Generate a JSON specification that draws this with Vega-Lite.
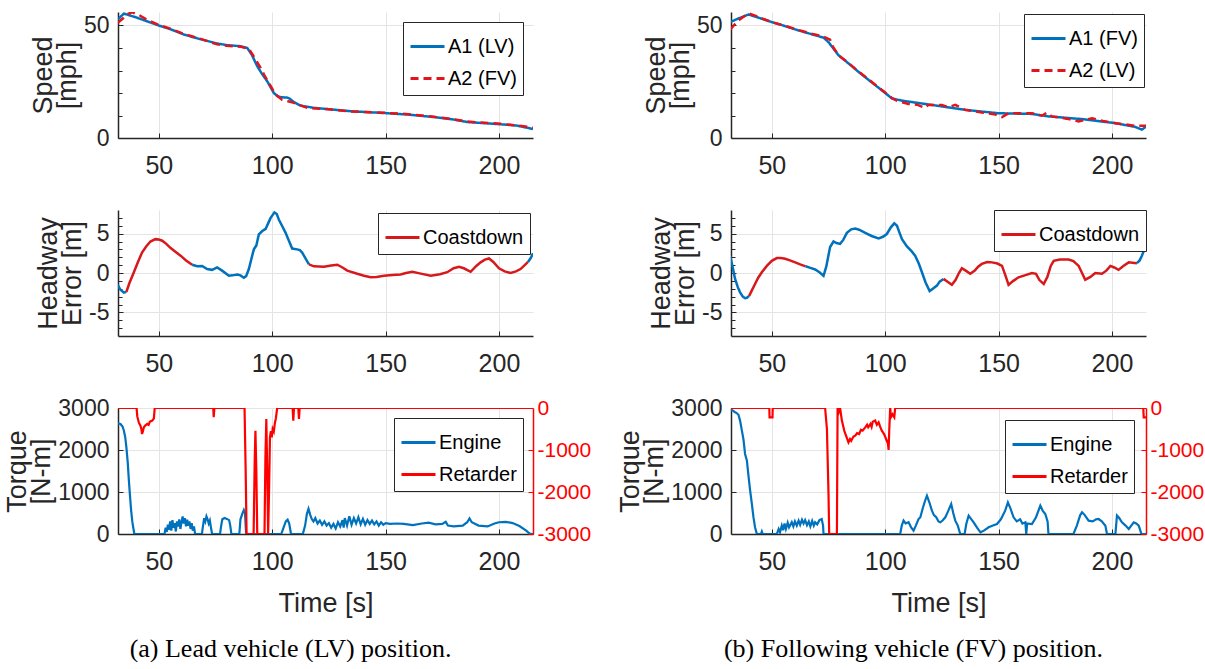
{
"$schema": "https://vega.github.io/schema/vega-lite/v6.json",
"background": "white",
"padding": {"left": 3, "top": 12, "right": 0, "bottom": 0},
"config": {
  "view": {"stroke": null},
  "font": "Liberation Sans",
  "axis": {"labelFont": "Liberation Sans", "labelFontSize": 25, "labelColor": "#262626", "titleFont": "Liberation Sans", "titleFontSize": 27, "titleLineHeight": 24, "titleFontWeight": "normal", "titleColor": "#262626", "domainColor": "#262626", "domainWidth": 1.5, "tickColor": "#262626", "tickSize": -5, "gridColor": "#e4e4e4", "gridWidth": 1},
  "axisX": {"labelPadding": 20},
  "axisY": {"labelPadding": 14, "titlePadding": 2, "labelFontSize": 23},
  "legend": {"orient": "top-right", "title": null, "fillColor": "white", "strokeColor": "#262626", "padding": 6, "labelFont": "Liberation Sans", "labelFontSize": 20, "labelColor": "black", "symbolType": "stroke", "symbolSize": 1156, "symbolStrokeWidth": 3, "labelOffset": 2, "rowPadding": 3}
},
"datasets": {
"spL": [
{"t":31.9,"v":52.7,"s":"A1 (LV)"},{"t":34.6,"v":55.3,"s":"A1 (LV)"},{"t":40,"v":53.6,"s":"A1 (LV)"},{"t":45,"v":51.8,"s":"A1 (LV)"},{"t":50,"v":50,"s":"A1 (LV)"},{"t":55,"v":48.4,"s":"A1 (LV)"},{"t":61,"v":46,"s":"A1 (LV)"},{"t":68,"v":44,"s":"A1 (LV)"},{"t":75.7,"v":42,"s":"A1 (LV)"},{"t":80,"v":41.3,"s":"A1 (LV)"},{"t":86,"v":40.8,"s":"A1 (LV)"},{"t":89,"v":40,"s":"A1 (LV)"},{"t":91,"v":37,"s":"A1 (LV)"},{"t":93.4,"v":31.9,"s":"A1 (LV)"},{"t":95.5,"v":28.5,"s":"A1 (LV)"},{"t":97.8,"v":25.2,"s":"A1 (LV)"},{"t":100.7,"v":20,"s":"A1 (LV)"},{"t":102.5,"v":18.5,"s":"A1 (LV)"},{"t":104,"v":18.1,"s":"A1 (LV)"},{"t":106.5,"v":18,"s":"A1 (LV)"},{"t":107.5,"v":17.6,"s":"A1 (LV)"},{"t":109.5,"v":16,"s":"A1 (LV)"},{"t":112.5,"v":14.4,"s":"A1 (LV)"},{"t":118.4,"v":13.4,"s":"A1 (LV)"},{"t":125,"v":12.8,"s":"A1 (LV)"},{"t":134.6,"v":11.9,"s":"A1 (LV)"},{"t":149.3,"v":11.1,"s":"A1 (LV)"},{"t":160,"v":10.4,"s":"A1 (LV)"},{"t":171.3,"v":9.3,"s":"A1 (LV)"},{"t":180,"v":8.2,"s":"A1 (LV)"},{"t":186,"v":7.1,"s":"A1 (LV)"},{"t":200.7,"v":6.1,"s":"A1 (LV)"},{"t":208,"v":5.5,"s":"A1 (LV)"},{"t":215,"v":4,"s":"A1 (LV)"},
{"t":31.9,"v":51.2,"s":"A2 (FV)"},{"t":34,"v":53,"s":"A2 (FV)"},{"t":36,"v":55,"s":"A2 (FV)"},{"t":38.2,"v":55.9,"s":"A2 (FV)"},{"t":41,"v":54.8,"s":"A2 (FV)"},{"t":45,"v":52.4,"s":"A2 (FV)"},{"t":50,"v":50.3,"s":"A2 (FV)"},{"t":55,"v":48.6,"s":"A2 (FV)"},{"t":61,"v":46.3,"s":"A2 (FV)"},{"t":68,"v":44.2,"s":"A2 (FV)"},{"t":75.7,"v":41.6,"s":"A2 (FV)"},{"t":80,"v":41,"s":"A2 (FV)"},{"t":86,"v":40.6,"s":"A2 (FV)"},{"t":89.7,"v":39.6,"s":"A2 (FV)"},{"t":92,"v":36,"s":"A2 (FV)"},{"t":94.9,"v":31.2,"s":"A2 (FV)"},{"t":96.5,"v":28,"s":"A2 (FV)"},{"t":98.5,"v":24.5,"s":"A2 (FV)"},{"t":101.5,"v":19.3,"s":"A2 (FV)"},{"t":104.4,"v":17,"s":"A2 (FV)"},{"t":107,"v":16.3,"s":"A2 (FV)"},{"t":109.6,"v":15.6,"s":"A2 (FV)"},{"t":115.4,"v":13.4,"s":"A2 (FV)"},{"t":125,"v":12.8,"s":"A2 (FV)"},{"t":134.6,"v":11.8,"s":"A2 (FV)"},{"t":149.3,"v":11.2,"s":"A2 (FV)"},{"t":160,"v":10.6,"s":"A2 (FV)"},{"t":171.3,"v":9.4,"s":"A2 (FV)"},{"t":180,"v":8.3,"s":"A2 (FV)"},{"t":186,"v":7.3,"s":"A2 (FV)"},{"t":200.7,"v":6.3,"s":"A2 (FV)"},{"t":208,"v":5.6,"s":"A2 (FV)"},{"t":215,"v":4.6,"s":"A2 (FV)"}
],
"spR": [
{"t":31.6,"v":51.5,"s":"A1 (FV)"},{"t":35,"v":53,"s":"A1 (FV)"},{"t":39.7,"v":54.9,"s":"A1 (FV)"},{"t":45,"v":53.2,"s":"A1 (FV)"},{"t":50,"v":51.5,"s":"A1 (FV)"},{"t":55,"v":50,"s":"A1 (FV)"},{"t":61.8,"v":47.8,"s":"A1 (FV)"},{"t":68,"v":46,"s":"A1 (FV)"},{"t":72.8,"v":44.6,"s":"A1 (FV)"},{"t":75,"v":42.6,"s":"A1 (FV)"},{"t":79.4,"v":36.8,"s":"A1 (FV)"},{"t":84,"v":33,"s":"A1 (FV)"},{"t":88.2,"v":29.4,"s":"A1 (FV)"},{"t":95.6,"v":23.5,"s":"A1 (FV)"},{"t":100,"v":20,"s":"A1 (FV)"},{"t":102.9,"v":17.6,"s":"A1 (FV)"},{"t":107.4,"v":16.6,"s":"A1 (FV)"},{"t":120.6,"v":14.7,"s":"A1 (FV)"},{"t":135.3,"v":12.5,"s":"A1 (FV)"},{"t":150,"v":11,"s":"A1 (FV)"},{"t":164.7,"v":10.7,"s":"A1 (FV)"},{"t":172,"v":9.6,"s":"A1 (FV)"},{"t":186.8,"v":8.4,"s":"A1 (FV)"},{"t":201.5,"v":6.6,"s":"A1 (FV)"},{"t":210.3,"v":4.9,"s":"A1 (FV)"},{"t":213.2,"v":3.7,"s":"A1 (FV)"},{"t":215,"v":5.1,"s":"A1 (FV)"},
{"t":31.6,"v":48.1,"s":"A2 (LV)"},{"t":33.8,"v":50.7,"s":"A2 (LV)"},{"t":36,"v":52.8,"s":"A2 (LV)"},{"t":39.7,"v":55.4,"s":"A2 (LV)"},{"t":42.6,"v":54.4,"s":"A2 (LV)"},{"t":46,"v":53,"s":"A2 (LV)"},{"t":50,"v":51.5,"s":"A2 (LV)"},{"t":55,"v":50.1,"s":"A2 (LV)"},{"t":61.8,"v":48,"s":"A2 (LV)"},{"t":68,"v":46.2,"s":"A2 (LV)"},{"t":72.8,"v":45.1,"s":"A2 (LV)"},{"t":75.7,"v":43.7,"s":"A2 (LV)"},{"t":77,"v":40.5,"s":"A2 (LV)"},{"t":79.4,"v":36.8,"s":"A2 (LV)"},{"t":84,"v":33.2,"s":"A2 (LV)"},{"t":88.2,"v":29.6,"s":"A2 (LV)"},{"t":95.6,"v":23.7,"s":"A2 (LV)"},{"t":100,"v":20.2,"s":"A2 (LV)"},{"t":102.9,"v":17.8,"s":"A2 (LV)"},{"t":104.4,"v":16.9,"s":"A2 (LV)"},{"t":107,"v":16,"s":"A2 (LV)"},{"t":110.3,"v":15.1,"s":"A2 (LV)"},{"t":114,"v":14.8,"s":"A2 (LV)"},{"t":117.6,"v":13.4,"s":"A2 (LV)"},{"t":119,"v":14.7,"s":"A2 (LV)"},{"t":125,"v":14.7,"s":"A2 (LV)"},{"t":127.9,"v":13.7,"s":"A2 (LV)"},{"t":130.9,"v":14.7,"s":"A2 (LV)"},{"t":135.3,"v":12.5,"s":"A2 (LV)"},{"t":142.6,"v":11.3,"s":"A2 (LV)"},{"t":148,"v":10.6,"s":"A2 (LV)"},{"t":151.5,"v":9.3,"s":"A2 (LV)"},{"t":154.4,"v":11,"s":"A2 (LV)"},{"t":160,"v":11,"s":"A2 (LV)"},{"t":164.7,"v":11,"s":"A2 (LV)"},{"t":169.1,"v":9.9,"s":"A2 (LV)"},{"t":171.3,"v":11.3,"s":"A2 (LV)"},{"t":173.5,"v":9.6,"s":"A2 (LV)"},{"t":180,"v":8.6,"s":"A2 (LV)"},{"t":185.3,"v":7.4,"s":"A2 (LV)"},{"t":191.2,"v":8.8,"s":"A2 (LV)"},{"t":196,"v":7.6,"s":"A2 (LV)"},{"t":201.5,"v":6.6,"s":"A2 (LV)"},{"t":206,"v":6,"s":"A2 (LV)"},{"t":210.3,"v":5.4,"s":"A2 (LV)"},{"t":215,"v":5.4,"s":"A2 (LV)"}
],
"hwL": [
{"t":31.9,"e":-1.5,"g":1,"m":"Other"},{"t":33,"e":-2.1,"g":1,"m":"Other"},{"t":34.6,"e":-2.5,"g":1,"m":"Other"},{"t":35.7,"e":-2.4,"g":1,"m":"Other"},
{"t":35.7,"e":-2.4,"g":2,"m":"Coastdown"},{"t":37,"e":-1.3,"g":2,"m":"Coastdown"},{"t":39,"e":0.1,"g":2,"m":"Coastdown"},{"t":40.8,"e":1.4,"g":2,"m":"Coastdown"},{"t":42.6,"e":2.6,"g":2,"m":"Coastdown"},{"t":44.5,"e":3.4,"g":2,"m":"Coastdown"},{"t":46.3,"e":4.0,"g":2,"m":"Coastdown"},{"t":48.5,"e":4.3,"g":2,"m":"Coastdown"},{"t":50,"e":4.25,"g":2,"m":"Coastdown"},{"t":51.5,"e":4.1,"g":2,"m":"Coastdown"},{"t":53.3,"e":3.7,"g":2,"m":"Coastdown"},{"t":55.1,"e":3.2,"g":2,"m":"Coastdown"},{"t":57.3,"e":2.7,"g":2,"m":"Coastdown"},{"t":59.6,"e":2.2,"g":2,"m":"Coastdown"},{"t":62,"e":1.6,"g":2,"m":"Coastdown"},{"t":64.7,"e":1.05,"g":2,"m":"Coastdown"},
{"t":64.7,"e":1.05,"g":3,"m":"Other"},{"t":66.9,"e":0.85,"g":3,"m":"Other"},{"t":69.1,"e":0.9,"g":3,"m":"Other"},{"t":71.3,"e":0.5,"g":3,"m":"Other"},{"t":73.5,"e":0.4,"g":3,"m":"Other"},{"t":75.7,"e":0.7,"g":3,"m":"Other"},{"t":77.9,"e":0.3,"g":3,"m":"Other"},{"t":80.9,"e":-0.35,"g":3,"m":"Other"},{"t":82.5,"e":-0.3,"g":3,"m":"Other"},{"t":84.6,"e":-0.2,"g":3,"m":"Other"},{"t":86,"e":-0.3,"g":3,"m":"Other"},{"t":87.5,"e":-0.6,"g":3,"m":"Other"},{"t":88.5,"e":-0.4,"g":3,"m":"Other"},{"t":89.7,"e":0.5,"g":3,"m":"Other"},{"t":91,"e":2.0,"g":3,"m":"Other"},{"t":91.9,"e":3.0,"g":3,"m":"Other"},{"t":93,"e":3.5,"g":3,"m":"Other"},{"t":94.1,"e":4.9,"g":3,"m":"Other"},{"t":95.5,"e":5.3,"g":3,"m":"Other"},{"t":97.1,"e":5.6,"g":3,"m":"Other"},{"t":98.2,"e":6.3,"g":3,"m":"Other"},{"t":99.3,"e":7.0,"g":3,"m":"Other"},{"t":101,"e":7.7,"g":3,"m":"Other"},{"t":102,"e":7.5,"g":3,"m":"Other"},{"t":102.9,"e":6.8,"g":3,"m":"Other"},{"t":104.5,"e":5.9,"g":3,"m":"Other"},{"t":105.9,"e":5.1,"g":3,"m":"Other"},{"t":107.5,"e":4.0,"g":3,"m":"Other"},{"t":108.8,"e":3.1,"g":3,"m":"Other"},{"t":111,"e":3.0,"g":3,"m":"Other"},{"t":112.2,"e":2.9,"g":3,"m":"Other"},{"t":113.2,"e":2.6,"g":3,"m":"Other"},{"t":114.8,"e":1.8,"g":3,"m":"Other"},{"t":116.2,"e":1.1,"g":3,"m":"Other"},
{"t":116.2,"e":1.1,"g":4,"m":"Coastdown"},{"t":118.4,"e":0.85,"g":4,"m":"Coastdown"},{"t":122.8,"e":0.8,"g":4,"m":"Coastdown"},{"t":126,"e":0.95,"g":4,"m":"Coastdown"},{"t":128.7,"e":1.05,"g":4,"m":"Coastdown"},{"t":131,"e":0.7,"g":4,"m":"Coastdown"},{"t":133.1,"e":0.3,"g":4,"m":"Coastdown"},{"t":137.5,"e":-0.1,"g":4,"m":"Coastdown"},{"t":140.5,"e":-0.35,"g":4,"m":"Coastdown"},{"t":143.4,"e":-0.55,"g":4,"m":"Coastdown"},{"t":146,"e":-0.5,"g":4,"m":"Coastdown"},{"t":149.3,"e":-0.35,"g":4,"m":"Coastdown"},{"t":153,"e":-0.25,"g":4,"m":"Coastdown"},{"t":156.6,"e":-0.2,"g":4,"m":"Coastdown"},{"t":159,"e":0,"g":4,"m":"Coastdown"},{"t":161.8,"e":0.15,"g":4,"m":"Coastdown"},{"t":165,"e":-0.05,"g":4,"m":"Coastdown"},{"t":169.9,"e":-0.35,"g":4,"m":"Coastdown"},{"t":174,"e":-0.15,"g":4,"m":"Coastdown"},{"t":177.2,"e":0.1,"g":4,"m":"Coastdown"},{"t":180,"e":0.6,"g":4,"m":"Coastdown"},{"t":182.4,"e":0.8,"g":4,"m":"Coastdown"},{"t":184.5,"e":0.6,"g":4,"m":"Coastdown"},{"t":187.5,"e":0.15,"g":4,"m":"Coastdown"},{"t":190,"e":0.9,"g":4,"m":"Coastdown"},{"t":191.9,"e":1.35,"g":4,"m":"Coastdown"},{"t":193.8,"e":1.7,"g":4,"m":"Coastdown"},{"t":195.6,"e":1.85,"g":4,"m":"Coastdown"},{"t":197.5,"e":1.4,"g":4,"m":"Coastdown"},{"t":200,"e":0.6,"g":4,"m":"Coastdown"},{"t":202.5,"e":0.2,"g":4,"m":"Coastdown"},{"t":205.1,"e":0,"g":4,"m":"Coastdown"},{"t":207.5,"e":0.2,"g":4,"m":"Coastdown"},{"t":209.5,"e":0.5,"g":4,"m":"Coastdown"},{"t":211,"e":0.9,"g":4,"m":"Coastdown"},{"t":212.8,"e":1.4,"g":4,"m":"Coastdown"},
{"t":212.8,"e":1.4,"g":5,"m":"Other"},{"t":214,"e":1.9,"g":5,"m":"Other"},{"t":215,"e":2.5,"g":5,"m":"Other"}
],
"hwR": [
{"t":31.6,"e":2.2,"g":1,"m":"Other"},{"t":32.7,"e":0.8,"g":1,"m":"Other"},{"t":33.8,"e":-0.75,"g":1,"m":"Other"},{"t":35,"e":-1.8,"g":1,"m":"Other"},{"t":36,"e":-2.45,"g":1,"m":"Other"},{"t":37.2,"e":-3.0,"g":1,"m":"Other"},{"t":38.2,"e":-3.2,"g":1,"m":"Other"},{"t":39,"e":-3.15,"g":1,"m":"Other"},{"t":40,"e":-2.9,"g":1,"m":"Other"},
{"t":40,"e":-2.9,"g":2,"m":"Coastdown"},{"t":41.2,"e":-2.2,"g":2,"m":"Coastdown"},{"t":42.6,"e":-1.4,"g":2,"m":"Coastdown"},{"t":44,"e":-0.6,"g":2,"m":"Coastdown"},{"t":45.6,"e":0.1,"g":2,"m":"Coastdown"},{"t":47.8,"e":0.9,"g":2,"m":"Coastdown"},{"t":50,"e":1.55,"g":2,"m":"Coastdown"},{"t":52.2,"e":1.9,"g":2,"m":"Coastdown"},{"t":54,"e":1.9,"g":2,"m":"Coastdown"},{"t":55.9,"e":1.8,"g":2,"m":"Coastdown"},{"t":58,"e":1.6,"g":2,"m":"Coastdown"},{"t":60.3,"e":1.35,"g":2,"m":"Coastdown"},{"t":62.5,"e":1.1,"g":2,"m":"Coastdown"},{"t":64.9,"e":0.85,"g":2,"m":"Coastdown"},
{"t":64.9,"e":0.85,"g":3,"m":"Other"},{"t":67,"e":0.65,"g":3,"m":"Other"},{"t":69.1,"e":0.45,"g":3,"m":"Other"},{"t":71,"e":0.1,"g":3,"m":"Other"},{"t":72.8,"e":-0.35,"g":3,"m":"Other"},{"t":74,"e":0.8,"g":3,"m":"Other"},{"t":75.7,"e":3.3,"g":3,"m":"Other"},{"t":77.2,"e":4.0,"g":3,"m":"Other"},{"t":78.5,"e":3.8,"g":3,"m":"Other"},{"t":80.1,"e":3.7,"g":3,"m":"Other"},{"t":81.5,"e":4.2,"g":3,"m":"Other"},{"t":83.1,"e":5.1,"g":3,"m":"Other"},{"t":85,"e":5.55,"g":3,"m":"Other"},{"t":86.8,"e":5.65,"g":3,"m":"Other"},{"t":88.5,"e":5.5,"g":3,"m":"Other"},{"t":91.2,"e":5.1,"g":3,"m":"Other"},{"t":94,"e":4.7,"g":3,"m":"Other"},{"t":97.1,"e":4.4,"g":3,"m":"Other"},{"t":99,"e":4.6,"g":3,"m":"Other"},{"t":100.7,"e":4.95,"g":3,"m":"Other"},{"t":102.5,"e":5.8,"g":3,"m":"Other"},{"t":104,"e":6.3,"g":3,"m":"Other"},{"t":105.2,"e":6.0,"g":3,"m":"Other"},{"t":106.2,"e":5.2,"g":3,"m":"Other"},{"t":107.4,"e":4.3,"g":3,"m":"Other"},{"t":109.5,"e":3.4,"g":3,"m":"Other"},{"t":111.5,"e":2.8,"g":3,"m":"Other"},{"t":113.2,"e":2.2,"g":3,"m":"Other"},{"t":114.8,"e":1.2,"g":3,"m":"Other"},{"t":116.2,"e":0.1,"g":3,"m":"Other"},{"t":117.8,"e":-1.2,"g":3,"m":"Other"},{"t":119.6,"e":-2.3,"g":3,"m":"Other"},{"t":121,"e":-2.0,"g":3,"m":"Other"},{"t":122.8,"e":-1.6,"g":3,"m":"Other"},{"t":124,"e":-1.1,"g":3,"m":"Other"},{"t":125.7,"e":-0.75,"g":3,"m":"Other"},
{"t":125.7,"e":-0.75,"g":4,"m":"Coastdown"},{"t":127.5,"e":-1.1,"g":4,"m":"Coastdown"},{"t":129.4,"e":-1.5,"g":4,"m":"Coastdown"},{"t":131,"e":-0.9,"g":4,"m":"Coastdown"},{"t":132.5,"e":0.0,"g":4,"m":"Coastdown"},{"t":133.8,"e":0.6,"g":4,"m":"Coastdown"},{"t":135.5,"e":0.3,"g":4,"m":"Coastdown"},{"t":137.5,"e":-0.1,"g":4,"m":"Coastdown"},{"t":139.5,"e":0.3,"g":4,"m":"Coastdown"},{"t":141,"e":0.8,"g":4,"m":"Coastdown"},{"t":142.6,"e":1.15,"g":4,"m":"Coastdown"},{"t":145,"e":1.4,"g":4,"m":"Coastdown"},{"t":147.1,"e":1.35,"g":4,"m":"Coastdown"},{"t":149.5,"e":1.2,"g":4,"m":"Coastdown"},{"t":151.5,"e":0.9,"g":4,"m":"Coastdown"},{"t":153,"e":-0.3,"g":4,"m":"Coastdown"},{"t":154.4,"e":-1.5,"g":4,"m":"Coastdown"},{"t":156.5,"e":-1.0,"g":4,"m":"Coastdown"},{"t":158.8,"e":-0.55,"g":4,"m":"Coastdown"},{"t":161.5,"e":-0.3,"g":4,"m":"Coastdown"},{"t":164.7,"e":0,"g":4,"m":"Coastdown"},{"t":166.5,"e":-0.1,"g":4,"m":"Coastdown"},{"t":168,"e":-0.9,"g":4,"m":"Coastdown"},{"t":169.9,"e":-1.4,"g":4,"m":"Coastdown"},{"t":171.5,"e":-0.5,"g":4,"m":"Coastdown"},{"t":173,"e":0.9,"g":4,"m":"Coastdown"},{"t":174.3,"e":1.55,"g":4,"m":"Coastdown"},{"t":177,"e":1.7,"g":4,"m":"Coastdown"},{"t":180.9,"e":1.7,"g":4,"m":"Coastdown"},{"t":183,"e":1.5,"g":4,"m":"Coastdown"},{"t":185.3,"e":0.9,"g":4,"m":"Coastdown"},{"t":186.8,"e":0,"g":4,"m":"Coastdown"},{"t":188.2,"e":-0.85,"g":4,"m":"Coastdown"},{"t":190.5,"e":-0.5,"g":4,"m":"Coastdown"},{"t":192.6,"e":0,"g":4,"m":"Coastdown"},{"t":195.6,"e":-0.1,"g":4,"m":"Coastdown"},{"t":197.5,"e":0.3,"g":4,"m":"Coastdown"},{"t":199.3,"e":0.9,"g":4,"m":"Coastdown"},{"t":201,"e":0.7,"g":4,"m":"Coastdown"},{"t":202.9,"e":0.4,"g":4,"m":"Coastdown"},{"t":205,"e":0.9,"g":4,"m":"Coastdown"},{"t":207.4,"e":1.35,"g":4,"m":"Coastdown"},{"t":209,"e":1.3,"g":4,"m":"Coastdown"},{"t":211,"e":1.25,"g":4,"m":"Coastdown"},
{"t":211,"e":1.25,"g":5,"m":"Other"},{"t":212.2,"e":1.6,"g":5,"m":"Other"},{"t":213.2,"e":2.2,"g":5,"m":"Other"},{"t":214,"e":2.8,"g":5,"m":"Other"},{"t":215,"e":3.25,"g":5,"m":"Other"}
],
"engL": [
{"t":31.9,"y":2636},{"t":33.1,"y":2620},{"t":34,"y":2560},{"t":34.6,"y":2460},{"t":35.2,"y":2300},{"t":35.7,"y":2064},{"t":36.3,"y":1700},{"t":36.8,"y":1270},{"t":37.3,"y":900},{"t":37.8,"y":556},{"t":38.3,"y":300},{"t":38.7,"y":160},{"t":39.2,"y":0},{"t":52.5,"y":0},{"t":53,"y":150},{"t":53.5,"y":50},{"t":54,"y":220},{"t":54.5,"y":100},{"t":55,"y":300},{"t":55.5,"y":80},{"t":56,"y":330},{"t":56.5,"y":150},{"t":57,"y":260},{"t":57.5,"y":60},{"t":58,"y":300},{"t":58.5,"y":180},{"t":59,"y":350},{"t":59.5,"y":120},{"t":60,"y":280},{"t":60.5,"y":420},{"t":61,"y":250},{"t":61.5,"y":380},{"t":62,"y":180},{"t":62.5,"y":340},{"t":63,"y":200},{"t":63.5,"y":300},{"t":64,"y":120},{"t":64.5,"y":260},{"t":65,"y":80},{"t":65.5,"y":180},{"t":66,"y":0},{"t":69,"y":0},{"t":69.5,"y":200},{"t":70,"y":380},{"t":70.5,"y":300},{"t":71,"y":420},{"t":71.5,"y":350},{"t":72,"y":250},{"t":72.5,"y":320},{"t":73,"y":150},{"t":73.5,"y":0},{"t":77,"y":0},{"t":77.5,"y":200},{"t":78,"y":350},{"t":79,"y":380},{"t":80,"y":360},{"t":81,"y":330},{"t":81.5,"y":200},{"t":82,"y":0},{"t":85.5,"y":0},{"t":86,"y":350},{"t":86.8,"y":480},{"t":87.5,"y":570},{"t":88,"y":500},{"t":88.5,"y":0},{"t":104,"y":0},{"t":105,"y":150},{"t":106,"y":300},{"t":106.8,"y":340},{"t":107.5,"y":250},{"t":108.3,"y":0},{"t":113.5,"y":0},{"t":114.5,"y":200},{"t":115.3,"y":480},{"t":116,"y":600},{"t":116.8,"y":450},{"t":117.5,"y":350},{"t":118.2,"y":300},{"t":119,"y":380},{"t":120,"y":250},{"t":121,"y":320},{"t":122,"y":220},{"t":123,"y":300},{"t":124,"y":200},{"t":125,"y":260},{"t":126,"y":150},{"t":127,"y":240},{"t":128,"y":130},{"t":129,"y":280},{"t":130,"y":180},{"t":131,"y":330},{"t":131.5,"y":150},{"t":132,"y":380},{"t":133,"y":200},{"t":134,"y":420},{"t":135,"y":220},{"t":136,"y":380},{"t":137,"y":250},{"t":138,"y":400},{"t":139,"y":230},{"t":140,"y":360},{"t":141,"y":220},{"t":142,"y":330},{"t":143,"y":240},{"t":144,"y":320},{"t":145,"y":230},{"t":146,"y":300},{"t":147,"y":200},{"t":148,"y":280},{"t":149,"y":220},{"t":150,"y":260},{"t":152,"y":240},{"t":155,"y":250},{"t":158,"y":240},{"t":162,"y":210},{"t":166,"y":250},{"t":169,"y":270},{"t":172,"y":230},{"t":175,"y":240},{"t":176.5,"y":290},{"t":177.5,"y":200},{"t":180,"y":180},{"t":184,"y":200},{"t":186,"y":280},{"t":187,"y":370},{"t":188,"y":280},{"t":191,"y":200},{"t":195,"y":180},{"t":198,"y":250},{"t":200,"y":280},{"t":203,"y":290},{"t":206,"y":260},{"t":209,"y":190},{"t":212,"y":80},{"t":213.5,"y":10},{"t":215,"y":0}
],
"retL": [
{"t":31.9,"y":0},{"t":40.2,"y":0},{"t":40.5,"y":-200},{"t":41.2,"y":-350},{"t":41.9,"y":-420},{"t":42.3,"y":-500},{"t":42.6,"y":-620},{"t":43,"y":-550},{"t":43.4,"y":-460},{"t":44,"y":-420},{"t":44.9,"y":-380},{"t":45.5,"y":-400},{"t":46,"y":-330},{"t":47.1,"y":-300},{"t":47.8,"y":-250},{"t":48.2,"y":0},{"t":74,"y":0},{"t":74.2,"y":-220},{"t":74.5,"y":0},{"t":87.8,"y":0},{"t":88.3,"y":-1500},{"t":88.7,"y":-3000},{"t":91.8,"y":-3000},{"t":92.3,"y":-1200},{"t":92.6,"y":-540},{"t":93,"y":-1500},{"t":93.4,"y":-3000},{"t":96.6,"y":-3000},{"t":97,"y":-1200},{"t":97.4,"y":-260},{"t":97.8,"y":-1500},{"t":98.2,"y":-3000},{"t":98.6,"y":-2000},{"t":99,"y":-700},{"t":99.4,"y":-550},{"t":99.8,"y":-700},{"t":100.2,"y":-500},{"t":100.7,"y":-560},{"t":101.2,"y":-350},{"t":101.6,"y":-250},{"t":102.2,"y":0},{"t":109,"y":0},{"t":109.3,"y":-300},{"t":109.6,"y":0},{"t":111.5,"y":0},{"t":111.8,"y":-260},{"t":112.1,"y":0},{"t":215,"y":0}
],
"engR": [
{"t":31.6,"y":2940},{"t":32.5,"y":2950},{"t":33.8,"y":2900},{"t":34.5,"y":2880},{"t":35.3,"y":2840},{"t":36,"y":2700},{"t":36.8,"y":2460},{"t":37.5,"y":2250},{"t":38.2,"y":1905},{"t":39,"y":1750},{"t":39.7,"y":1390},{"t":40.4,"y":1050},{"t":41.2,"y":715},{"t":41.9,"y":400},{"t":42.6,"y":160},{"t":43.4,"y":0},{"t":45.2,"y":0},{"t":45.6,"y":60},{"t":46,"y":0},{"t":52.2,"y":0},{"t":53,"y":120},{"t":53.6,"y":40},{"t":54.4,"y":200},{"t":55,"y":90},{"t":55.6,"y":250},{"t":56.2,"y":120},{"t":57,"y":270},{"t":57.6,"y":160},{"t":58.8,"y":280},{"t":59.5,"y":180},{"t":60.2,"y":300},{"t":61,"y":200},{"t":61.8,"y":320},{"t":62.5,"y":220},{"t":63.3,"y":340},{"t":64,"y":250},{"t":64.7,"y":330},{"t":65.5,"y":210},{"t":66.3,"y":300},{"t":67,"y":180},{"t":67.8,"y":310},{"t":68.5,"y":200},{"t":69.1,"y":280},{"t":70,"y":230},{"t":71,"y":330},{"t":72,"y":357},{"t":72.6,"y":200},{"t":72.8,"y":0},{"t":106.6,"y":0},{"t":107.3,"y":200},{"t":108.1,"y":318},{"t":109,"y":250},{"t":110.3,"y":280},{"t":111.5,"y":150},{"t":112.5,"y":80},{"t":113.5,"y":200},{"t":114.7,"y":357},{"t":115.5,"y":400},{"t":116.5,"y":600},{"t":117.5,"y":780},{"t":118.4,"y":913},{"t":119.5,"y":750},{"t":120.6,"y":556},{"t":121.5,"y":450},{"t":122.5,"y":400},{"t":123.5,"y":300},{"t":124.3,"y":278},{"t":125.3,"y":320},{"t":126.5,"y":397},{"t":127.8,"y":550},{"t":129.1,"y":715},{"t":130,"y":500},{"t":130.9,"y":318},{"t":132,"y":200},{"t":133.1,"y":0},{"t":135,"y":0},{"t":135.8,"y":250},{"t":136.8,"y":437},{"t":138,"y":350},{"t":139,"y":278},{"t":140.5,"y":150},{"t":142,"y":40},{"t":143.5,"y":80},{"t":145.6,"y":160},{"t":147.5,"y":200},{"t":149.3,"y":238},{"t":151,"y":350},{"t":152.9,"y":556},{"t":154.1,"y":754},{"t":155.3,"y":600},{"t":156.6,"y":397},{"t":158,"y":300},{"t":159.5,"y":350},{"t":160.5,"y":250},{"t":161.8,"y":278},{"t":162.2,"y":0},{"t":162.6,"y":250},{"t":164.7,"y":238},{"t":166.5,"y":400},{"t":168.4,"y":675},{"t":169.5,"y":550},{"t":170.6,"y":476},{"t":171.6,"y":300},{"t":172,"y":0},{"t":183,"y":0},{"t":184.5,"y":200},{"t":186,"y":450},{"t":186.8,"y":516},{"t":188,"y":450},{"t":189.7,"y":318},{"t":191.5,"y":300},{"t":193,"y":350},{"t":194.1,"y":357},{"t":195.5,"y":300},{"t":197.1,"y":198},{"t":197.8,"y":0},{"t":201.5,"y":0},{"t":202.2,"y":437},{"t":203.2,"y":380},{"t":204.4,"y":278},{"t":206,"y":200},{"t":207.4,"y":119},{"t":208.5,"y":200},{"t":209.6,"y":278},{"t":210.7,"y":250},{"t":211.8,"y":198},{"t":213,"y":0},{"t":215,"y":0}
],
"retR": [
{"t":31.6,"y":0},{"t":48.9,"y":0},{"t":49,"y":-222},{"t":50.3,"y":-222},{"t":50.4,"y":0},{"t":73.5,"y":0},{"t":74.3,"y":-500},{"t":75,"y":-2050},{"t":75.3,"y":-3000},{"t":78.7,"y":-3000},{"t":79,"y":0},{"t":79.5,"y":-100},{"t":80.1,"y":0},{"t":80.9,"y":-300},{"t":82,"y":-550},{"t":83,"y":-700},{"t":83.8,"y":-820},{"t":84.5,"y":-740},{"t":85,"y":-780},{"t":86,"y":-680},{"t":86.8,"y":-660},{"t":87.6,"y":-600},{"t":88.5,"y":-620},{"t":89.3,"y":-520},{"t":90,"y":-540},{"t":91.2,"y":-460},{"t":92,"y":-400},{"t":92.5,"y":-460},{"t":93.5,"y":-380},{"t":94,"y":-450},{"t":94.5,"y":-330},{"t":95.6,"y":-300},{"t":96.3,"y":-400},{"t":97.1,"y":-340},{"t":97.8,"y":-450},{"t":98.5,"y":-540},{"t":99.5,"y":-620},{"t":100.7,"y":-780},{"t":101.2,"y":-850},{"t":101.5,"y":-1000},{"t":101.8,"y":-500},{"t":102.2,"y":0},{"t":102.5,"y":-222},{"t":103.2,"y":-150},{"t":104,"y":-222},{"t":104.4,"y":0},{"t":213.8,"y":0},{"t":214,"y":-222},{"t":215,"y":-222}
]
},
"columns": 2,
"spacing": {"row": 72, "column": 198},
"bounds": "flush",
"resolve": {"scale": {"color": "independent", "strokeDash": "independent"}, "legend": {"color": "independent", "strokeDash": "independent"}},
"concat": [
{
 "width": 415, "height": 126,
 "data": {"name": "spL"},
 "layer": [
  {
   "mark": {"type": "line", "strokeWidth": 2.5, "clip": true},
   "encoding": {
    "x": {"field": "t", "type": "quantitative", "scale": {"domain": [32, 215], "nice": false, "zero": false}, "axis": {"values": [50, 100, 150, 200], "title": null}},
    "y": {"field": "v", "type": "quantitative", "scale": {"domain": [0, 56], "nice": false}, "axis": {"values": [0, 50], "title": ["Speed", "[mph]"]}},
    "color": {"field": "s", "type": "nominal", "scale": {"domain": ["A1 (LV)", "A2 (FV)"], "range": ["#0072BD", "#E3141E"]}, "legend": {"offset": 10}},
    "strokeDash": {"field": "s", "type": "nominal", "scale": {"domain": ["A1 (LV)", "A2 (FV)"], "range": [[1, 0], [8, 5]]}, "legend": {"offset": 10}}
   }
  },
  {
   "mark": {"type": "line", "opacity": 0},
   "encoding": {
    "x": {"field": "t", "type": "quantitative"},
    "y": {"field": "v", "type": "quantitative", "scale": {"domain": [0, 56], "nice": false}, "axis": {"orient": "left", "values": [10, 20, 30, 40], "labels": false, "domain": false, "grid": false, "title": null, "tickSize": -4}}
   }
  }
 ],
 "resolve": {"scale": {"y": "independent"}}
},
{
 "width": 415, "height": 126,
 "data": {"name": "spR"},
 "layer": [
  {
   "mark": {"type": "line", "strokeWidth": 2.5, "clip": true},
   "encoding": {
    "x": {"field": "t", "type": "quantitative", "scale": {"domain": [32, 215], "nice": false, "zero": false}, "axis": {"values": [50, 100, 150, 200], "title": null}},
    "y": {"field": "v", "type": "quantitative", "scale": {"domain": [0, 56], "nice": false}, "axis": {"values": [0, 50], "title": ["Speed", "[mph]"]}},
    "color": {"field": "s", "type": "nominal", "scale": {"domain": ["A1 (FV)", "A2 (LV)"], "range": ["#0072BD", "#E3141E"]}, "legend": {"offset": 2}},
    "strokeDash": {"field": "s", "type": "nominal", "scale": {"domain": ["A1 (FV)", "A2 (LV)"], "range": [[1, 0], [8, 5]]}, "legend": {"offset": 2}}
   }
  },
  {
   "mark": {"type": "line", "opacity": 0},
   "encoding": {
    "x": {"field": "t", "type": "quantitative"},
    "y": {"field": "v", "type": "quantitative", "scale": {"domain": [0, 56], "nice": false}, "axis": {"orient": "left", "values": [10, 20, 30, 40], "labels": false, "domain": false, "grid": false, "title": null, "tickSize": -4}}
   }
  }
 ],
 "resolve": {"scale": {"y": "independent"}}
},
{
 "width": 415, "height": 126,
 "data": {"name": "hwL"},
 "layer": [
  {
   "mark": {"type": "line", "strokeWidth": 2.5, "clip": true},
   "encoding": {
    "x": {"field": "t", "type": "quantitative", "scale": {"domain": [32, 215], "nice": false, "zero": false}, "axis": {"values": [50, 100, 150, 200], "title": null}},
    "y": {"field": "e", "type": "quantitative", "scale": {"domain": [-8, 8], "nice": false}, "axis": {"values": [-5, 0, 5], "labelExpr": "'' + datum.value", "title": ["Headway", "Error [m]"]}},
    "detail": {"field": "g", "type": "nominal"},
    "color": {"field": "m", "type": "nominal", "scale": {"domain": ["Other", "Coastdown"], "range": ["#0072BD", "#D7191C"]}, "legend": {"values": ["Coastdown"], "offset": 3}}
   }
  },
  {
   "mark": {"type": "line", "opacity": 0},
   "encoding": {
    "x": {"field": "t", "type": "quantitative"},
    "y": {"field": "e", "type": "quantitative", "scale": {"domain": [-8, 8], "nice": false}, "axis": {"orient": "left", "values": [-7, -6, -4, -3, -2, -1, 1, 2, 3, 4, 6, 7], "labels": false, "domain": false, "grid": false, "title": null, "tickSize": -4}}
   }
  }
 ],
 "resolve": {"scale": {"y": "independent"}}
},
{
 "width": 415, "height": 126,
 "data": {"name": "hwR"},
 "layer": [
  {
   "mark": {"type": "line", "strokeWidth": 2.5, "clip": true},
   "encoding": {
    "x": {"field": "t", "type": "quantitative", "scale": {"domain": [32, 215], "nice": false, "zero": false}, "axis": {"values": [50, 100, 150, 200], "title": null}},
    "y": {"field": "e", "type": "quantitative", "scale": {"domain": [-8, 8], "nice": false}, "axis": {"values": [-5, 0, 5], "labelExpr": "'' + datum.value", "title": ["Headway", "Error [m]"]}},
    "detail": {"field": "g", "type": "nominal"},
    "color": {"field": "m", "type": "nominal", "scale": {"domain": ["Other", "Coastdown"], "range": ["#0072BD", "#D7191C"]}, "legend": {"values": ["Coastdown"], "offset": 0}}
   }
  },
  {
   "mark": {"type": "line", "opacity": 0},
   "encoding": {
    "x": {"field": "t", "type": "quantitative"},
    "y": {"field": "e", "type": "quantitative", "scale": {"domain": [-8, 8], "nice": false}, "axis": {"orient": "left", "values": [-7, -6, -4, -3, -2, -1, 1, 2, 3, 4, 6, 7], "labels": false, "domain": false, "grid": false, "title": null, "tickSize": -4}}
   }
  }
 ],
 "resolve": {"scale": {"y": "independent"}}
},
{
 "width": 415, "height": 126,
 "title": {"text": "(a) Lead vehicle (LV) position.", "orient": "bottom", "font": "Liberation Serif", "fontSize": 26, "fontWeight": "normal", "color": "black", "offset": 20, "dx": -35},
 "layer": [
  {
   "data": {"name": "engL"},
   "mark": {"type": "line", "strokeWidth": 2.2, "clip": true},
   "encoding": {
    "x": {"field": "t", "type": "quantitative", "scale": {"domain": [32, 215], "nice": false, "zero": false}, "axis": {"values": [50, 100, 150, 200], "title": "Time [s]", "titleFontSize": 27, "titlePadding": 16}},
    "y": {"field": "y", "type": "quantitative", "scale": {"domain": [0, 3000], "nice": false}, "axis": {"values": [0, 1000, 2000, 3000], "format": "d", "title": ["Torque", "[N-m]"]}},
    "color": {"datum": "Engine", "type": "nominal", "scale": {"domain": ["Engine", "Retarder"], "range": ["#0072BD", "#FF0000"]}, "legend": {"offset": 10}}
   }
  },
  {
   "data": {"name": "retL"},
   "mark": {"type": "line", "strokeWidth": 2.2, "clip": true},
   "encoding": {
    "x": {"field": "t", "type": "quantitative"},
    "y": {"field": "y", "type": "quantitative", "scale": {"domain": [-3000, 0], "nice": false}, "axis": {"orient": "right", "values": [-3000, -2000, -1000, 0], "labelExpr": "'' + datum.value", "title": null, "grid": false, "labelFontSize": 21, "labelPadding": 9, "labelColor": "#FF0000", "domainColor": "#FF0000", "tickColor": "#FF0000"}},
    "color": {"datum": "Retarder", "type": "nominal"}
   }
  }
 ],
 "resolve": {"scale": {"y": "independent"}}
},
{
 "width": 415, "height": 126,
 "title": {"text": "(b) Following vehicle (FV) position.", "orient": "bottom", "font": "Liberation Serif", "fontSize": 26, "fontWeight": "normal", "color": "black", "offset": 20, "dx": -25},
 "layer": [
  {
   "data": {"name": "engR"},
   "mark": {"type": "line", "strokeWidth": 2.2, "clip": true},
   "encoding": {
    "x": {"field": "t", "type": "quantitative", "scale": {"domain": [32, 215], "nice": false, "zero": false}, "axis": {"values": [50, 100, 150, 200], "title": "Time [s]", "titleFontSize": 27, "titlePadding": 16}},
    "y": {"field": "y", "type": "quantitative", "scale": {"domain": [0, 3000], "nice": false}, "axis": {"values": [0, 1000, 2000, 3000], "format": "d", "title": ["Torque", "[N-m]"]}},
    "color": {"datum": "Engine", "type": "nominal", "scale": {"domain": ["Engine", "Retarder"], "range": ["#0072BD", "#FF0000"]}, "legend": {"offset": 12}}
   }
  },
  {
   "data": {"name": "retR"},
   "mark": {"type": "line", "strokeWidth": 2.2, "clip": true},
   "encoding": {
    "x": {"field": "t", "type": "quantitative"},
    "y": {"field": "y", "type": "quantitative", "scale": {"domain": [-3000, 0], "nice": false}, "axis": {"orient": "right", "values": [-3000, -2000, -1000, 0], "labelExpr": "'' + datum.value", "title": null, "grid": false, "labelFontSize": 21, "labelPadding": 9, "labelColor": "#FF0000", "domainColor": "#FF0000", "tickColor": "#FF0000"}},
    "color": {"datum": "Retarder", "type": "nominal"}
   }
  }
 ],
 "resolve": {"scale": {"y": "independent"}}
}
]
}
